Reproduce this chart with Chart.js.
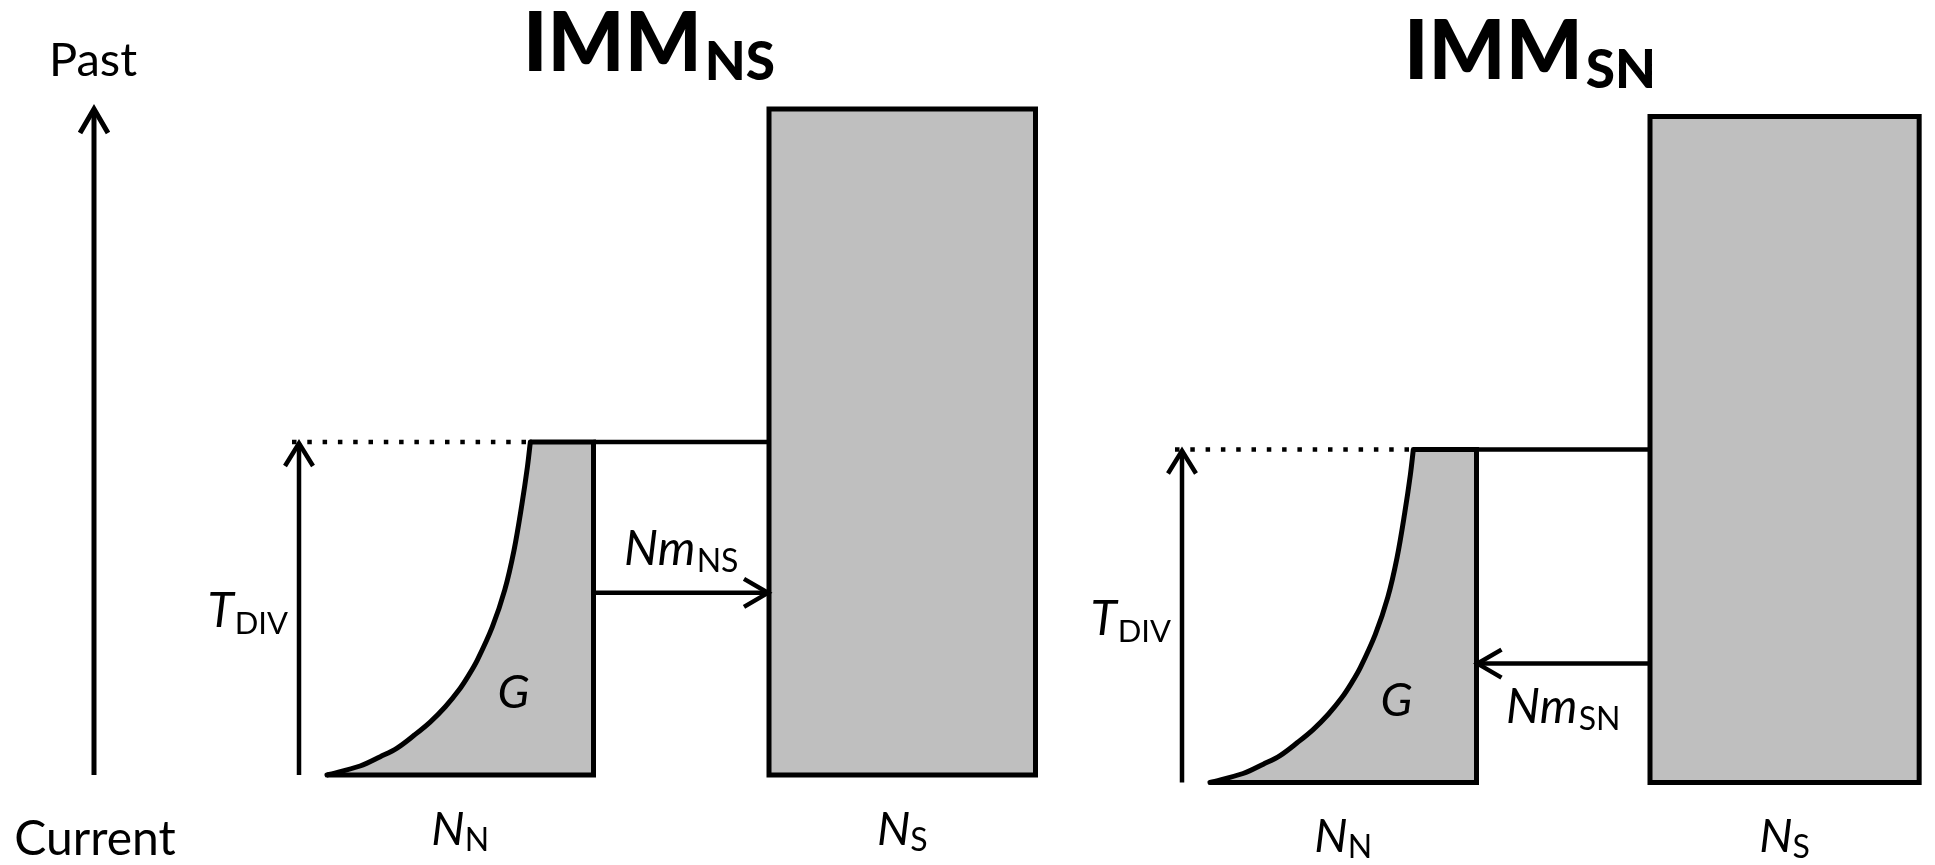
<!DOCTYPE html>
<html><head><meta charset="utf-8">
<script src="https://cdn.jsdelivr.net/npm/chart.js@4.4.0/dist/chart.umd.min.js"></script>
<style>html,body{margin:0;padding:0;background:#fff;}#wrap{width:1935px;height:865px;}</style>
</head><body><div id="wrap"><canvas id="c" width="1935" height="865"></canvas></div>
<script>
// ---------------- data ----------------
const panelTitles = ['IMM', 'IMM'];
const panelSubs = ['NS', 'SN'];
const timeLabels = ['Past', 'Current'];
const popNames = ['N', 'N'];
const popSubs = ['N', 'S'];
const growthLabel = 'G';
const divLabel = 'T';
const divSub = 'DIV';
const migrationLabel = 'Nm';
const migrationSubs = ['NS', 'SN'];
const migrationDirection = [1, -1];      // +1: N -> S (arrow right), -1: S -> N (arrow left)
const migrationTime = [0.547, 0.357];    // time of migration arrow, in T_DIV units
const divergenceTime = 1;                // T_DIV
const maxTime = 2;                       // top of N_S block / time axis
const sizeNCurrent = 1;                  // current size of N_N
const sizeS = [1, 1.01];                 // size of N_S
// N_N population size (relative to current) going back in time
const growthTime = [0, 0.027, 0.055, 0.081, 0.12, 0.159, 0.205, 0.255, 0.30, 0.345, 0.444, 0.556, 0.676, 0.811, 0.925, 1.0];
const growthSize = [1, 0.876, 0.80, 0.737, 0.672, 0.613, 0.556, 0.505, 0.468, 0.436, 0.380, 0.333, 0.298, 0.269, 0.248, 0.237];

// ---------------- layout ----------------
const unitPx = 266.5;
const panelX0 = [327, 1210];
const gapNS = [175.5, 173.5];
const arrowOffset = 28;
const pxPerT = 333;
const baseY = [775, 782.5];
const FILL = '#bfbfbf';
const FONT = 'Lato, "Open Sans", sans-serif';
const LW = 5;

const yIds = ['yL', 'yR'];
const headLenT = 24 / pxPerT, headHalfT = 14 / pxPerT;

function seg(points, yID, opts) {
  return Object.assign({
    type: 'scatter', data: points, yAxisID: yID, showLine: true,
    pointRadius: 0, pointHoverRadius: 0, borderColor: '#000', borderWidth: LW,
    fill: false, tension: 0, borderCapStyle: 'butt', borderJoinStyle: 'miter'
  }, opts || {});
}

const datasets = [];
const geom = [];
for (let p = 0; p < 2; p++) {
  const y = yIds[p];
  const x0 = panelX0[p];
  const xNR = x0 + sizeNCurrent * unitPx;
  const xSL = xNR + gapNS[p];
  const xSR = xSL + sizeS[p] * unitPx;
  const ax = x0 - arrowOffset;
  const curve = growthTime.map((t, i) => ({ x: xNR - growthSize[i] * unitPx, y: t * divergenceTime }));
  const top = curve[curve.length - 1];
  geom.push({ x0, xNR, xSL, xSR, ax });

  // fills
  datasets.push(seg([...curve, { x: xNR, y: divergenceTime }, { x: xNR, y: 0 }, { x: x0, y: 0 }], y,
    { showLine: false, polyFill: FILL }));
  datasets.push(seg([{ x: xSL, y: 0 }, { x: xSR, y: 0 }, { x: xSR, y: maxTime }, { x: xSL, y: maxTime }], y,
    { showLine: false, polyFill: FILL }));
  // N_S box outline
  datasets.push(seg([{ x: xSL, y: 0 }, { x: xSR, y: 0 }, { x: xSR, y: maxTime }, { x: xSL, y: maxTime }, { x: xSL, y: 0 }], y,
    { borderWidth: 5, borderCapStyle: 'square' }));
  // N_N growth curve
  datasets.push(seg(curve, y, { borderWidth: 5, tension: 0.35, borderCapStyle: 'round' }));
  // N_N right edge + bottom
  datasets.push(seg([{ x: top.x, y: divergenceTime }, { x: xNR, y: divergenceTime }, { x: xNR, y: 0 }, { x: x0, y: 0 }], y,
    { borderWidth: 5 }));
  // connector to N_S at T_DIV
  datasets.push(seg([{ x: xNR, y: divergenceTime }, { x: xSL, y: divergenceTime }], y, { borderWidth: 4.5 }));
  // dotted line at T_DIV
  datasets.push(seg([{ x: ax - 7, y: divergenceTime }, { x: top.x - 2, y: divergenceTime }], y,
    { borderWidth: 4.5, borderDash: [4.5, 10.8] }));
  // T_DIV arrow
  datasets.push(seg([{ x: ax, y: 0 }, { x: ax, y: divergenceTime - 0.004 }], y, { borderWidth: 4.5 }));
  datasets.push(seg([{ x: ax - 14, y: divergenceTime - headLenT }, { x: ax, y: divergenceTime - 0.004 }, { x: ax + 14, y: divergenceTime - headLenT }], y, { borderWidth: 4.5 }));
  // migration arrow
  const mt = migrationTime[p];
  const dir = migrationDirection[p];
  const tip = dir > 0 ? xSL - 1 : xNR + 1;
  datasets.push(seg([{ x: xNR, y: mt }, { x: xSL, y: mt }], y, { borderWidth: 4.5 }));
  datasets.push(seg([{ x: tip - dir * 24, y: mt + headHalfT }, { x: tip, y: mt }, { x: tip - dir * 24, y: mt - headHalfT }], y, { borderWidth: 4.5 }));
}
// global time axis (Past <- Current)
const timeAxisX = 94;
datasets.push(seg([{ x: timeAxisX, y: 0 }, { x: timeAxisX, y: maxTime }], 'yL', { borderWidth: 5 }));
datasets.push(seg([{ x: timeAxisX - 14, y: maxTime - headLenT }, { x: timeAxisX, y: maxTime }, { x: timeAxisX + 14, y: maxTime - headLenT }], 'yL', { borderWidth: 5 }));

// ---------------- plugins ----------------
const polyFillPlugin = {
  id: 'polyFill',
  beforeDatasetsDraw(chart) {
    const ctx = chart.ctx;
    chart.data.datasets.forEach((ds, i) => {
      if (!ds.polyFill) return;
      const pts = chart.getDatasetMeta(i).data;
      ctx.save();
      ctx.beginPath();
      pts.forEach((pt, k) => k ? ctx.lineTo(pt.x, pt.y) : ctx.moveTo(pt.x, pt.y));
      ctx.closePath();
      ctx.fillStyle = ds.polyFill;
      ctx.fill();
      ctx.restore();
    });
  }
};

function drawParts(ctx, parts, x, y, align) {
  let total = 0;
  parts.forEach(pt => { ctx.font = pt.font; pt.w = ctx.measureText(pt.text).width; total += pt.w + (pt.gap || 0); });
  let cx = align === 'center' ? x - total / 2 : align === 'right' ? x - total : x;
  parts.forEach(pt => {
    ctx.font = pt.font;
    ctx.fillText(pt.text, cx + (pt.gap || 0), y + (pt.dy || 0));
    cx += pt.w + (pt.gap || 0);
  });
}

const textPlugin = {
  id: 'texts',
  afterDatasetsDraw(chart) {
    const ctx = chart.ctx;
    const xs = chart.scales.x;
    ctx.save();
    ctx.fillStyle = '#000';
    ctx.textBaseline = 'alphabetic';
    ctx.textAlign = 'left';
    const yl = chart.scales.yL;
    drawParts(ctx, [{ text: timeLabels[0], font: '47px ' + FONT }], xs.getPixelForValue(timeAxisX - 1), yl.getPixelForValue(2.099), 'center');
    drawParts(ctx, [{ text: timeLabels[1], font: '48px ' + FONT }], xs.getPixelForValue(timeAxisX + 1), yl.getPixelForValue(-0.24), 'center');
    for (let p = 0; p < 2; p++) {
      const ys = chart.scales[yIds[p]];
      const g = geom[p];
      // title
      drawParts(ctx, [
        { text: panelTitles[p], font: '900 81px ' + FONT },
        { text: panelSubs[p], font: '900 53px ' + FONT, dy: 9, gap: 3 }
      ], xs.getPixelForValue(g.xSL - 120), ys.getPixelForValue(2.114), 'center');
      // T_DIV
      drawParts(ctx, [
        { text: divLabel, font: 'italic 48px ' + FONT },
        { text: divSub, font: '31px ' + FONT, dy: 7, gap: 1 }
      ], xs.getPixelForValue(g.ax - 11), ys.getPixelForValue(0.444), 'right');
      // G
      drawParts(ctx, [{ text: growthLabel, font: 'italic 47px ' + FONT }], xs.getPixelForValue(g.xNR - 80), ys.getPixelForValue(0.2), 'center');
      // migration label
      const above = migrationDirection[p] > 0;
      const lt = above ? migrationTime[p] + 0.084 : migrationTime[p] - 0.177;
      drawParts(ctx, [
        { text: migrationLabel, font: 'italic 48px ' + FONT },
        { text: migrationSubs[p], font: '32px ' + FONT, dy: 7, gap: 1 }
      ], xs.getPixelForValue((g.xNR + g.xSL) / 2), ys.getPixelForValue(lt), 'center');
      // population labels
      drawParts(ctx, [
        { text: popNames[0], font: 'italic 47px ' + FONT },
        { text: popSubs[0], font: '32px ' + FONT, dy: 6, gap: 0 }
      ], xs.getPixelForValue((g.x0 + g.xNR) / 2), ys.getPixelForValue(-0.21), 'center');
      drawParts(ctx, [
        { text: popNames[1], font: 'italic 47px ' + FONT },
        { text: popSubs[1], font: '32px ' + FONT, dy: 6, gap: 0 }
      ], xs.getPixelForValue((g.xSL + g.xSR) / 2), ys.getPixelForValue(-0.21), 'center');
    }
    ctx.restore();
  }
};

const H = 865, W = 1935;
new Chart(document.getElementById('c'), {
  type: 'scatter',
  data: { datasets },
  options: {
    responsive: false,
    animation: false,
    events: [],
    layout: { padding: 0 },
    plugins: { legend: { display: false }, tooltip: { enabled: false } },
    scales: {
      x: { type: 'linear', display: false, min: 0, max: W },
      yL: { type: 'linear', display: false, min: (baseY[0] - H) / pxPerT, max: baseY[0] / pxPerT },
      yR: { type: 'linear', display: false, min: (baseY[1] - H) / pxPerT, max: baseY[1] / pxPerT }
    }
  },
  plugins: [polyFillPlugin, textPlugin]
});
</script>
</body></html>
